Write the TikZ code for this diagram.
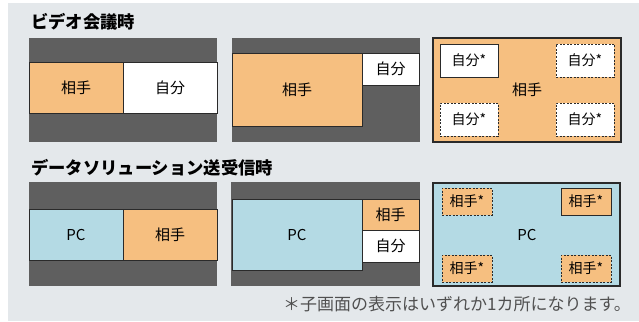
\documentclass[tikz,border=0pt]{standalone}
\usepackage{fontspec}
\setmainfont{Noto Sans CJK JP}
\newfontfamily\jp{Noto Sans CJK JP}
\definecolor{bgc}{HTML}{E4E8EB}
\definecolor{darkc}{HTML}{5F5F5F}
\definecolor{orc}{HTML}{F6BF80}
\definecolor{blc}{HTML}{B4DAE4}
\definecolor{edgec}{HTML}{2A2A2A}
\definecolor{notec}{HTML}{505050}
\tikzset{
  box/.style={anchor=north west, inner sep=0pt, outer sep=0pt},
  darkpanel/.style={box, fill=darkc},
  cell/.style={box, draw=edgec, line width=0.9pt, font=\jp\fontsize{15}{15}\selectfont},
  sub/.style={cell, font=\jp\fontsize{14}{14}\selectfont},
  subd/.style={sub, dashed, dash pattern=on 2pt off 1.5pt},
  ttl/.style={anchor=west, inner sep=0pt, font=\jp\bfseries\fontsize{17.3}{17.3}\selectfont},
}
\begin{document}
\begin{tikzpicture}[x=1pt,y=-1pt]
\useasboundingbox (0,0) rectangle (639,321);
\fill[bgc] (8,3) rectangle (639,321);
% titles
\node[ttl] (t1) at (31,22) {ビデオ会議時};
\node[ttl] (t2) at (31,168) {データソリューション送受信時};
% row 1 panel 1
\node[darkpanel, minimum width=188pt, minimum height=104pt] (p11) at (29,38) {};
\node[cell, fill=orc, minimum width=94pt, minimum height=51pt] (a11) at (29,62) {相手};
\node[cell, fill=white, minimum width=94pt, minimum height=51pt] (b11) at (123,62) {自分};
% row 1 panel 2
\node[darkpanel, minimum width=188pt, minimum height=104pt] (p12) at (232,38) {};
\node[cell, fill=orc, minimum width=130pt, minimum height=73pt] (a12) at (232,53) {相手};
\node[cell, fill=white, minimum width=57pt, minimum height=32pt] (b12) at (362,53) {自分};
% row 1 panel 3
\node[cell, fill=orc, line width=1.1pt, minimum width=188pt, minimum height=104pt] (p13) at (433,38) {};
\node[font=\jp\fontsize{15}{15}\selectfont, inner sep=0pt] (a13) at (527,90) {相手};
\node[sub, fill=white, minimum width=58pt, minimum height=33pt] (s1) at (440,44) {自分*};
\node[subd, fill=white, minimum width=58pt, minimum height=33pt] (s2) at (556,44) {自分*};
\node[subd, fill=white, minimum width=58pt, minimum height=33pt] (s3) at (440,103) {自分*};
\node[subd, fill=white, minimum width=58pt, minimum height=33pt] (s4) at (556,103) {自分*};
% row 2 panel 1
\node[darkpanel, minimum width=188pt, minimum height=104pt] (p21) at (29,182) {};
\node[cell, fill=blc, minimum width=94pt, minimum height=51pt] (a21) at (29,209) {PC};
\node[cell, fill=orc, minimum width=94pt, minimum height=51pt] (b21) at (123,209) {相手};
% row 2 panel 2
\node[darkpanel, minimum width=189pt, minimum height=104pt] (p22) at (231,182) {};
\node[cell, fill=blc, minimum width=130pt, minimum height=71pt] (a22) at (232,199) {PC};
\node[cell, fill=orc, minimum width=57pt, minimum height=31pt] (b22) at (362,199) {相手};
\node[cell, fill=white, minimum width=57pt, minimum height=32pt] (c22) at (362,230) {自分};
% row 2 panel 3
\node[cell, fill=blc, line width=1.1pt, minimum width=187pt, minimum height=103pt] (p23) at (433,183) {};
\node[font=\jp\fontsize{15}{15}\selectfont, inner sep=0pt] (a23) at (527,235) {PC};
\node[subd, fill=orc, minimum width=50pt, minimum height=27pt] (u1) at (442,188) {相手*};
\node[sub, fill=orc, minimum width=50pt, minimum height=27pt] (u2) at (561,188) {相手*};
\node[subd, fill=orc, minimum width=50pt, minimum height=27pt] (u3) at (442,255) {相手*};
\node[subd, fill=orc, minimum width=50pt, minimum height=27pt] (u4) at (561,255) {相手*};
% footnote
\node[anchor=east, inner sep=0pt, text=notec, font=\jp\fontsize{17}{17}\selectfont] (fn) at (631,304) {＊子画面の表示はいずれか1カ所になります。};
\end{tikzpicture}
\end{document}
